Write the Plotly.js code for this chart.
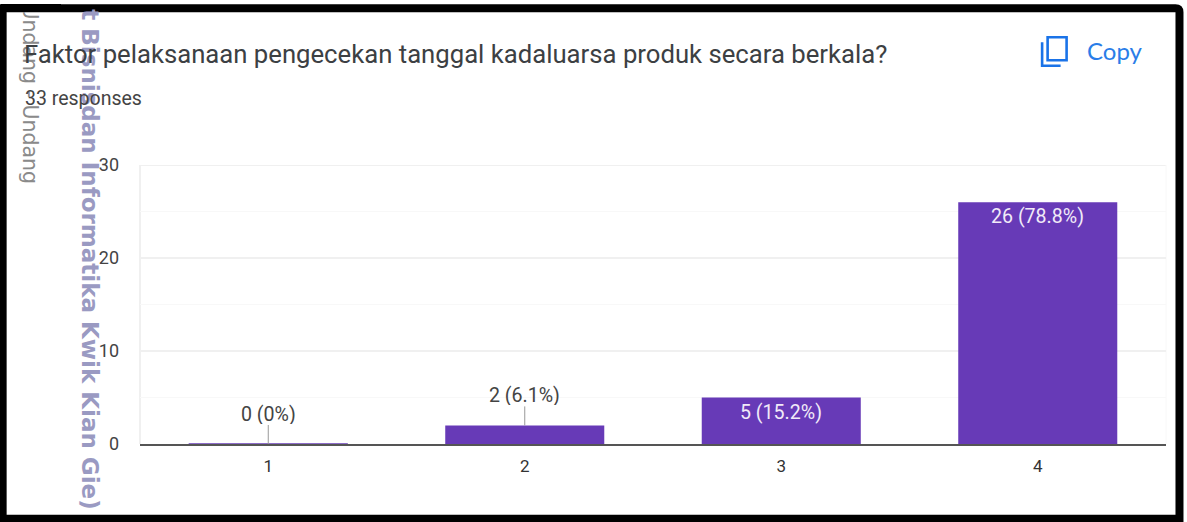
<!DOCTYPE html>
<html>
<head>
<meta charset="utf-8">
<script src="https://cdn.plot.ly/plotly-3.0.1.min.js"></script>
<style>html,body{margin:0;padding:0;background:#fff;overflow:hidden}</style>
</head>
<body>
<div id="chart" style="width:1187px;height:522px"></div>
<script>
const categories = ['1', '2', '3', '4'];
const counts = [0, 2, 5, 26];
const percents = ['0%', '6.1%', '15.2%', '78.8%'];
const yTicks = [0, 10, 20, 30];
const titleText = 'Faktor pelaksanaan pengecekan tanggal kadaluarsa produk secara berkala?';
const subtitleText = '33 responses';
const copyText = 'Copy';
const watermarkLeft = 'Undang - Undang';
const watermarkMain = 't Bisnisdan Informatika Kwik Kian Gie)';

const W = 1187, H = 522, L = 139.5, R = 1166.5, T = 165, B = 444.5;
const fx = p => (p - L) / (R - L);
const fy = p => (B - p) / (B - T);
const text = (t, x, y, size, color, extra) => Object.assign({
  text: t, x: fx(x), y: fy(y), xref: 'paper', yref: 'paper', showarrow: false,
  font: {family: 'Roboto, sans-serif', size: size, color: color},
  xanchor: 'left', yanchor: 'middle'
}, extra || {});

const pathShape = (pts, close, color, width) => ({
  type: 'path', xref: 'paper', yref: 'paper',
  path: pts.map((p, i) => (i ? 'L' : 'M') + fx(p[0]) + ',' + fy(p[1])).join(' ') + (close ? ' Z' : ''),
  line: {color: color, width: width}, layer: 'above'
});

const strip = (x0, x1, y0, y1) => ({
  text: ' ', x: fx(x0), y: fy(y0), xref: 'paper', yref: 'paper', showarrow: false,
  xanchor: 'left', yanchor: 'top', width: x1 - x0, height: y1 - y0,
  bgcolor: '#000000', borderpad: 0, borderwidth: 0, font: {size: 1}
});

const barLabels = categories.map((c, i) => {
  const label = counts[i] + ' (' + percents[i] + ')';
  const outside = counts[i] < 3;
  return outside ? {
    x: i, y: counts[i], xref: 'x', yref: 'y', text: label,
    showarrow: true, arrowhead: 0, arrowwidth: 1, arrowcolor: '#999999',
    ax: 0, ay: -19, standoff: 0, yanchor: 'bottom', height: 20, borderpad: 0,
    font: {family: 'Roboto, sans-serif', size: 19.6, color: '#444444'}
  } : {
    x: i, y: counts[i], xref: 'x', yref: 'y', text: label, showarrow: false,
    yanchor: 'top', yshift: -1,
    font: {family: 'Roboto, sans-serif', size: 19.6, color: '#f1eaf8'}
  };
});

const trace = {
  type: 'bar', x: categories, y: counts, width: 0.62,
  marker: {color: '#673ab7', line: {color: '#673ab7', width: counts.map(v => v === 0 ? 1 : 0)}},
  hoverinfo: 'skip'
};

const layout = {
  width: W, height: H, autosize: false,
  margin: {l: L, r: W - R, t: T, b: H - B, pad: 0},
  paper_bgcolor: '#ffffff', plot_bgcolor: '#ffffff', showlegend: false,
  font: {family: 'Roboto, sans-serif', color: '#444444'},
  xaxis: {
    type: 'category', range: [-0.5, 3.5], tickmode: 'array', tickvals: categories, ticktext: categories,
    showgrid: false, zeroline: false, showline: true, linecolor: '#555555', linewidth: 2,
    ticks: '', ticklabelstandoff: 6, tickfont: {size: 17, color: '#333333', family: 'Roboto, sans-serif'}, automargin: false
  },
  yaxis: {
    range: [0, 30], tickmode: 'array', tickvals: yTicks, ticktext: yTicks.map(String),
    showgrid: true, gridcolor: '#f0f0f0', gridwidth: 2,
    minor: {dtick: 5, showgrid: true, gridcolor: '#f8f8f8', gridwidth: 1, ticks: ''},
    zeroline: false, showline: false,
    ticks: '', ticklabelstandoff: 20, tickfont: {size: 18, color: '#444444', family: 'Roboto, sans-serif'}, automargin: false
  },
  shapes: [
    {type: 'line', xref: 'paper', yref: 'y', x0: 0, x1: 1, y0: yTicks[yTicks.length - 1], y1: yTicks[yTicks.length - 1],
     line: {color: '#f0f0f0', width: 2}, layer: 'below'},
    {type: 'line', xref: 'paper', yref: 'paper', x0: 0, x1: 0, y0: 0, y1: 1,
     line: {color: '#f0f0f0', width: 2}, layer: 'below'},
    {type: 'line', xref: 'paper', yref: 'paper', x0: 1, x1: 1, y0: 0, y1: 1,
     line: {color: '#f8f8f8', width: 1}, layer: 'below'},
    pathShape([[1048, 37], [1067, 37], [1067, 60], [1048, 60]], true, '#1a73e8', 2.6),
    pathShape([[1042.5, 42], [1042.5, 65.5], [1061, 65.5]], false, '#1a73e8', 2.6),
    {type: 'path', xref: 'paper', yref: 'paper', layer: 'above',
     path: 'M' + fx(2) + ',' + fy(8) + ' L' + fx(1176) + ',' + fy(8) +
           ' Q' + fx(1180) + ',' + fy(8) + ' ' + fx(1180) + ',' + fy(12) +
           ' L' + fx(1180) + ',' + fy(519.5) + ' L' + fx(2) + ',' + fy(519.5) + ' Z',
     line: {color: '#000000', width: 8}}
  ],
  annotations: [
    text(watermarkLeft, 29, 94, 20.5, '#8a8a8a', {textangle: 90, xanchor: 'center', yanchor: 'middle',
      font: {family: 'DejaVu Sans, sans-serif', size: 20.5, color: '#8a8a8a'}}),
    text(watermarkMain, 90, 259, 23, '#9a9ac2', {textangle: 90, xanchor: 'center', yanchor: 'middle',
      font: {family: 'DejaVu Sans, sans-serif', size: 23, color: '#9a9ac2', weight: 700}}),
    strip(0, 60, 4, 12),
    text(titleText, 21, 54, 25.7, '#3c4043'),
    text(subtitleText, 22, 98, 19.5, '#444444'),
    text(copyText, 1085, 50.5, 24, '#1a73e8', {font: {family: 'Lato, sans-serif', size: 24, color: '#2a7de8'}})
  ].concat(barLabels)
};

Plotly.newPlot('chart', [trace], layout, {displayModeBar: false, staticPlot: true});
</script>
</body>
</html>
